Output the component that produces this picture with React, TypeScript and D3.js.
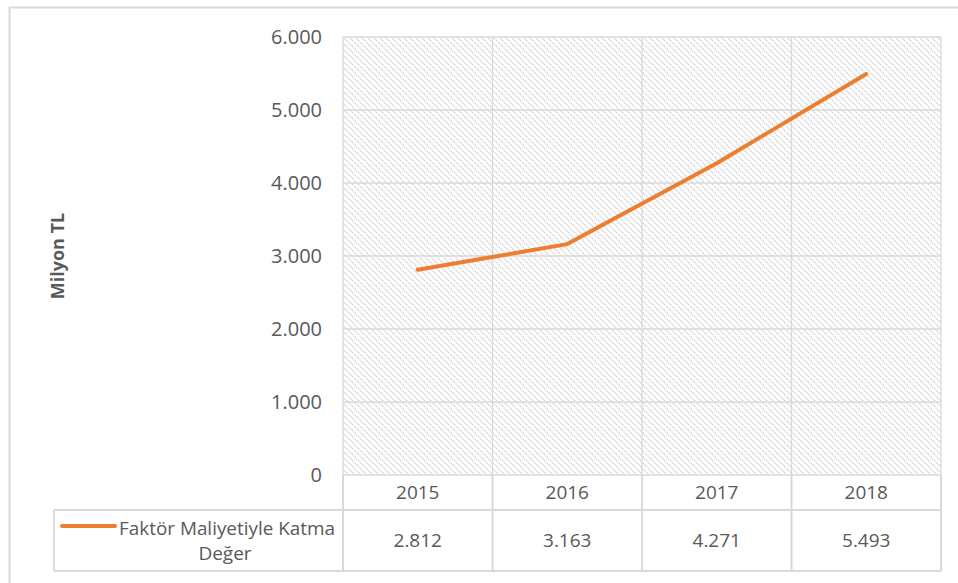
import { useEffect, useRef } from 'react';
import * as d3 from 'd3';

const YEARS = ['2015', '2016', '2017', '2018'];
const VALUES = [2812, 3163, 4271, 5493];
const SERIES = 'Faktör Maliyetiyle Katma Değer';
const Y_TICKS = [0, 1000, 2000, 3000, 4000, 5000, 6000];
const W = 958, H = 583;
const P = { left: 343, right: 941, top: 37, bottom: 475 };
const FONT = '"Open Sans", "Liberation Sans", sans-serif';
const fmt = (v: number) => d3.format(',')(v).replace(/,/g, '.');

export default function App() {
  const ref = useRef<SVGSVGElement>(null);
  useEffect(() => {
    const svg = d3.select(ref.current); svg.selectAll('*').remove();
    svg.attr('width', W).attr('height', H).style('display', 'block');
    const defs = svg.append('defs');
    const pat = defs.append('pattern').attr('id', 'hatch').attr('patternUnits', 'userSpaceOnUse')
      .attr('width', 6).attr('height', 6);
    pat.append('rect').attr('width', 6).attr('height', 6).attr('fill', '#fff');
    pat.append('path').attr('d', 'M-1,-1 L7,7 M-4,2 L2,8 M4,-2 L8,2')
      .attr('stroke', '#d0d0d0').attr('stroke-width', 1.4).attr('stroke-dasharray', '1.4,1');

    // chart area border
    svg.append('rect').attr('x', 9.5).attr('y', 7.5).attr('width', W - 5).attr('height', H - 4)
      .attr('fill', '#fff').attr('stroke', '#d9d9d9').attr('stroke-width', 2);

    const x = d3.scaleBand().domain(YEARS).range([P.left, P.right]);
    const y = d3.scaleLinear().domain([0, 6000]).range([P.bottom, P.top]);

    svg.append('rect').attr('x', P.left).attr('y', P.top).attr('width', P.right - P.left)
      .attr('height', P.bottom - P.top).attr('fill', 'url(#hatch)');

    const g = svg.append('g');
    Y_TICKS.forEach(t => {
      g.append('line').attr('x1', P.left).attr('x2', P.right).attr('y1', y(t)).attr('y2', y(t))
        .attr('stroke', '#d9d9d9').attr('stroke-width', 1.3);
      g.append('text').attr('x', 322).attr('y', y(t) + 7).attr('text-anchor', 'end')
        .attr('fill', '#595959').attr('font-size', 20).attr('font-family', FONT).text(fmt(t));
    });
    [...YEARS.map(d => x(d)!), P.right].forEach(v => {
      g.append('line').attr('x1', v).attr('x2', v).attr('y1', P.top).attr('y2', P.bottom)
        .attr('stroke', '#d9d9d9').attr('stroke-width', 1.3);
    });

    // data table
    const rowMid = 510, rowBot = 571, tLeft = 54;
    const tab = svg.append('g').attr('stroke', '#d9d9d9').attr('stroke-width', 2);
    tab.append('line').attr('x1', P.left).attr('x2', P.right).attr('y1', rowBot).attr('y2', rowBot);
    tab.append('line').attr('x1', tLeft).attr('x2', P.right).attr('y1', rowMid).attr('y2', rowMid);
    tab.append('line').attr('x1', tLeft).attr('x2', P.left).attr('y1', rowBot).attr('y2', rowBot);
    tab.append('line').attr('x1', tLeft).attr('x2', tLeft).attr('y1', rowMid).attr('y2', rowBot);
    [...YEARS.map(d => x(d)!), P.right].forEach(v => {
      tab.append('line').attr('x1', v).attr('x2', v).attr('y1', P.bottom).attr('y2', rowBot);
    });
    YEARS.forEach((d, i) => {
      const cx = x(d)! + x.bandwidth() / 2;
      svg.append('text').attr('x', cx).attr('y', 499).attr('text-anchor', 'middle')
        .attr('fill', '#595959').attr('font-size', 19).attr('font-family', FONT).text(d);
      svg.append('text').attr('x', cx).attr('y', 547).attr('text-anchor', 'middle')
        .attr('fill', '#595959').attr('font-size', 19).attr('font-family', FONT).text(fmt(VALUES[i]));
    });
    svg.append('line').attr('x1', 62).attr('x2', 115).attr('y1', 526).attr('y2', 526)
      .attr('stroke', '#ed7d31').attr('stroke-width', 4).attr('stroke-linecap', 'round');
    const words = SERIES.split(' ');
    svg.append('text').attr('x', 227).attr('y', 535).attr('text-anchor', 'middle')
      .attr('fill', '#595959').attr('font-size', 19).attr('font-family', FONT)
      .attr('textLength', 216).attr('lengthAdjust', 'spacingAndGlyphs')
      .text(words.slice(0, 3).join(' '));
    svg.append('text').attr('x', 225).attr('y', 560).attr('text-anchor', 'middle')
      .attr('fill', '#595959').attr('font-size', 19).attr('font-family', FONT).text(words[3]);

    // line
    const line = d3.line<number>().x((_, i) => x(YEARS[i])! + x.bandwidth() / 2).y(d => y(d));
    svg.append('path').datum(VALUES).attr('d', line).attr('fill', 'none')
      .attr('stroke', '#ed7d31').attr('stroke-width', 4).attr('stroke-linecap', 'round')
      .attr('stroke-linejoin', 'round');

    svg.append('text').attr('transform', 'translate(64,256) rotate(-90)').attr('text-anchor', 'middle')
      .attr('fill', '#595959').attr('font-size', 18).attr('font-weight', 'bold').attr('font-family', FONT)
      .text('Milyon TL');
  }, []);
  return <svg ref={ref} style={{ position: 'absolute', left: 0, top: 0 }} />;
}
